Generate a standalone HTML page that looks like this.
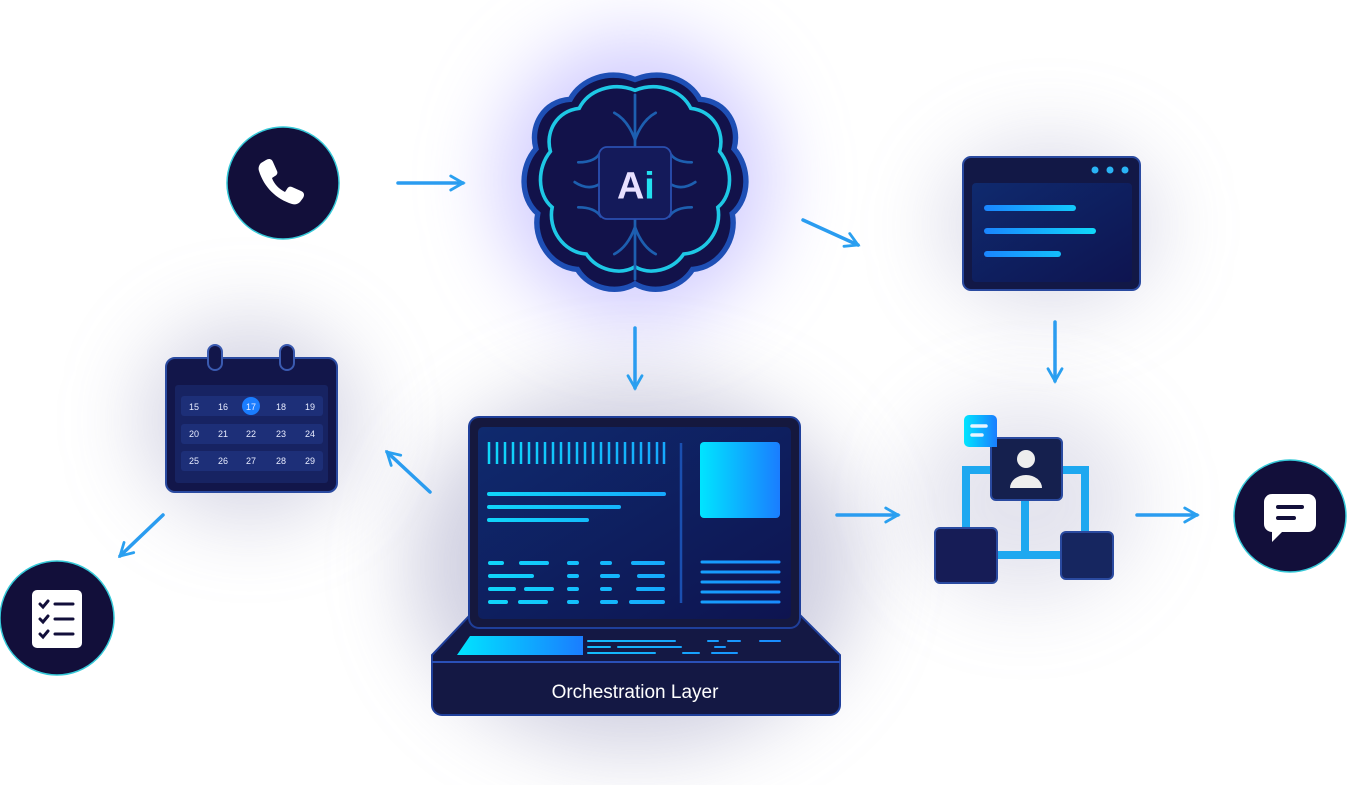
<!DOCTYPE html>
<html><head><meta charset="utf-8"><style>
body{margin:0;width:1347px;height:785px;background:#fff;overflow:hidden;position:relative;font-family:"Liberation Sans",sans-serif}
.glow{position:absolute;border-radius:50%;filter:blur(40px)}
svg{position:absolute;left:0;top:0}
</style></head><body>
<div class="glow" style="left:500px;top:40px;width:270px;height:280px;background:rgba(150,140,255,.45)"></div>
<div class="glow" style="left:410px;top:380px;width:450px;height:370px;background:rgba(120,120,170,.35)"></div>
<div class="glow" style="left:140px;top:320px;width:220px;height:200px;background:rgba(120,120,170,.3)"></div>
<div class="glow" style="left:940px;top:140px;width:220px;height:170px;background:rgba(120,120,170,.25)"></div>
<div class="glow" style="left:910px;top:400px;width:230px;height:200px;background:rgba(120,120,170,.2)"></div>
<svg width="1347" height="785" viewBox="0 0 1347 785">
<defs>
<linearGradient id="cy" x1="0" x2="1"><stop offset="0" stop-color="#00e5ff"/><stop offset="1" stop-color="#1a7dff"/></linearGradient>
<linearGradient id="cyu" gradientUnits="userSpaceOnUse" x1="480" x2="800" y1="0" y2="0"><stop offset="0" stop-color="#10d8fa"/><stop offset="1" stop-color="#1a86ff"/></linearGradient>
<linearGradient id="cyb" gradientUnits="userSpaceOnUse" x1="985" x2="1095" y1="0" y2="0"><stop offset="0" stop-color="#1a86ff"/><stop offset="1" stop-color="#10d8fa"/></linearGradient>
<linearGradient id="scr" x1="0" y1="0" x2="1" y2="1"><stop offset="0" stop-color="#0f2a6e"/><stop offset="1" stop-color="#0e1450"/></linearGradient>
<marker id="ah" viewBox="0 0 10 10" refX="8" refY="5" markerWidth="5" markerHeight="5" orient="auto"><path d="M1 1L8 5L1 9" fill="none" stroke="#2aa0f0" stroke-width="1.6" stroke-linecap="round"/></marker>
</defs>
<g stroke="#2a9cf0" stroke-width="3.5" stroke-linecap="round" fill="none" marker-end="url(#ah)">
<line x1="398" y1="183" x2="463" y2="183"/><line x1="803" y1="220" x2="858" y2="245"/>
<line x1="635" y1="328" x2="635" y2="388"/><line x1="1055" y1="322" x2="1055" y2="381"/>
<line x1="430" y1="492" x2="387" y2="452"/><line x1="163" y1="515" x2="120" y2="556"/>
<line x1="837" y1="515" x2="898" y2="515"/><line x1="1137" y1="515" x2="1197" y2="515"/>
</g>
<!-- circles -->
<circle cx="283" cy="183" r="56" fill="#120f3a" stroke="#36c9d8" stroke-width="1.5"/>
<path d="M266 160c3-2 6-1 7 2l4 9c1 2 0 4-2 5l-3 2c2 6 7 11 13 14l2-3c1-2 3-3 5-2l9 4c3 1 4 4 2 7l-3 4c-2 2-5 3-8 2-16-5-28-17-33-33-1-3 0-6 2-8z" fill="#fff"/>
<circle cx="57" cy="618" r="57" fill="#120f3a" stroke="#36c9d8" stroke-width="1.5"/>
<rect x="32" y="590" width="50" height="58" rx="5" fill="#fff"/>
<g stroke="#120f3a" stroke-width="3" stroke-linecap="round" fill="none"><path d="M40 604l3 3 5-6M40 619l3 3 5-6M40 634l3 3 5-6"/><path d="M55 604h18M55 619h18M55 634h18"/></g>
<circle cx="1290" cy="516" r="56" fill="#120f3a" stroke="#36c9d8" stroke-width="1.5"/>
<path d="M1272 494h36a8 8 0 0 1 8 8v22a8 8 0 0 1-8 8h-26l-10 10v-10a8 8 0 0 1-8-8v-22a8 8 0 0 1 8-8z" fill="#fff"/>
<path d="M1278 507h24M1278 518h16" stroke="#120f3a" stroke-width="4" stroke-linecap="round"/>
<!-- brain -->
<g transform="translate(635 183) scale(0.9) translate(-635 -183)">
<path d="M635 68c30-12 60 0 72 22 30 2 45 30 38 55 18 20 18 55-2 72 6 28-14 60-44 62-14 22-44 28-64 16-20 12-50 6-64-16-30-2-50-34-44-62-20-17-20-52-2-72-7-25 8-53 38-55 12-22 42-34 72-22z" fill="#12124a" stroke="#1e4fb5" stroke-width="6"/>
<path d="M635 80c25-10 52 0 62 20 25 3 38 26 32 48 15 18 15 48-2 62 5 24-12 50-38 52-12 18-38 24-54 14-16 10-42 4-54-14-26-2-43-28-38-52-17-14-17-44-2-62-6-22 7-45 32-48 10-20 37-30 62-20z" fill="none" stroke="#1ec8e6" stroke-width="4"/>
<g stroke="#1d5fb0" stroke-width="3" fill="none" stroke-linecap="round"><line x1="635" y1="85" x2="635" y2="290"/><path d="M612 105q15 8 23 30M658 105q-15 8-23 30M572 160q20 0 25-12M698 160q-20 0-25-12M568 182q15 10 28 2M702 182q-15 10-28 2M572 210q18 0 25 10M698 210q-18 0 -25 10M612 262q15-8 23-30M658 262q-15-8-23-30"/></g>
<rect x="595" y="143" width="80" height="80" rx="9" fill="#141a5a" stroke="#2a4fb0" stroke-width="2"/>
<text x="636" y="200" font-size="42" font-weight="bold" fill="#e8e0ff" text-anchor="middle">A<tspan fill="#22e0f0">i</tspan></text>
</g>
<!-- browser -->
<rect x="963" y="157" width="177" height="133" rx="8" fill="#121846" stroke="#2a4aa0" stroke-width="2"/>
<rect x="972" y="183" width="160" height="99" rx="4" fill="url(#scr)"/>
<circle cx="1095" cy="170" r="3.5" fill="#2ab4f5"/><circle cx="1110" cy="170" r="3.5" fill="#2ab4f5"/><circle cx="1125" cy="170" r="3.5" fill="#2ab4f5"/>
<g stroke="url(#cyb)" stroke-width="6" stroke-linecap="round"><line x1="987" y1="208" x2="1073" y2="208"/><line x1="987" y1="231" x2="1093" y2="231"/><line x1="987" y1="254" x2="1058" y2="254"/></g>
<!-- calendar -->
<rect x="166" y="358" width="171" height="134" rx="9" fill="#12164a" stroke="#2a4aa0" stroke-width="2"/>
<rect x="175" y="385" width="153" height="98" rx="3" fill="#172362"/>
<rect x="208" y="345" width="14" height="25" rx="7" fill="#12164a" stroke="#3a5ab0" stroke-width="2"/>
<rect x="280" y="345" width="14" height="25" rx="7" fill="#12164a" stroke="#3a5ab0" stroke-width="2"/>
<g fill="#1d2f78"><rect x="181" y="396" width="142" height="20" rx="3"/><rect x="181" y="424" width="142" height="20" rx="3"/><rect x="181" y="451" width="142" height="20" rx="3"/></g>
<circle cx="251" cy="406" r="9" fill="#1a7dff"/>
<g font-size="9" fill="#e8ecff" text-anchor="middle"><text x="194" y="410">15</text><text x="223" y="410">16</text><text x="251" y="410">17</text><text x="281" y="410">18</text><text x="310" y="410">19</text><text x="194" y="437">20</text><text x="223" y="437">21</text><text x="251" y="437">22</text><text x="281" y="437">23</text><text x="310" y="437">24</text><text x="194" y="464">25</text><text x="223" y="464">26</text><text x="251" y="464">27</text><text x="281" y="464">28</text><text x="310" y="464">29</text></g>
<!-- laptop -->
<path d="M470 615L432 655V705a10 10 0 0 0 10 10h388a10 10 0 0 0 10-10V655L800 615z" fill="#141844" stroke="#1f3f9a" stroke-width="2"/>
<path d="M432 662H840" stroke="#2a50b8" stroke-width="2"/>
<rect x="469" y="417" width="331" height="211" rx="10" fill="#15183e" stroke="#1f3f9a" stroke-width="2"/>
<rect x="478" y="427" width="313" height="192" rx="5" fill="url(#scr)"/>
<g stroke="url(#cyu)" stroke-width="2.5">
<path d="M489 442v22M497 442v22M505 442v22M513 442v22M521 442v22M529 442v22M537 442v22M545 442v22M553 442v22M561 442v22M569 442v22M577 442v22M585 442v22M593 442v22M601 442v22M609 442v22M617 442v22M625 442v22M633 442v22M641 442v22M649 442v22M657 442v22M664 442v22"/></g>
<line x1="681" y1="443" x2="681" y2="603" stroke="#1a4fb0" stroke-width="2.5"/>
<rect x="700" y="442" width="80" height="76" rx="4" fill="url(#cy)"/>
<g stroke="url(#cyu)" stroke-width="4" stroke-linecap="round">
<line x1="489" y1="494" x2="664" y2="494"/><line x1="489" y1="507" x2="619" y2="507"/><line x1="489" y1="520" x2="587" y2="520"/>
<path d="M490 563h12M521 563h26M569 563h8M602 563h8M633 563h30M490 576h42M569 576h8M602 576h16M639 576h24M490 589h24M526 589h26M569 589h8M602 589h8M638 589h25M490 602h16M520 602h26M569 602h8M602 602h14M631 602h32"/>
<path d="M702 562h77M702 572h77M702 582h77M702 592h77M702 602h77" stroke-width="3"/>
<path d="M588 641h87M588 647h22M618 647h63M588 653h67M708 641h10M728 641h12M760 641h20M715 647h10M712 653h25M683 653h16" stroke-width="2"/>
</g>
<path d="M470 636h113v19h-126z" fill="url(#cy)"/>
<text x="635" y="698" font-size="19" fill="#fff" text-anchor="middle">Orchestration Layer</text>
<!-- org chart -->
<g stroke="#1ea8f0" stroke-width="8" fill="none"><path d="M966 535V470h30M1055 470h30v70M1025 500v55M995 555h75"/></g>
<rect x="935" y="528" width="62" height="55" rx="5" fill="#161c56" stroke="#2a4aa0" stroke-width="2"/>
<rect x="1061" y="532" width="52" height="47" rx="5" fill="#162660" stroke="#2a4aa0" stroke-width="2"/>
<rect x="991" y="438" width="71" height="62" rx="5" fill="#15204e" stroke="#2a4aa0" stroke-width="2"/>
<circle cx="1026" cy="459" r="9" fill="#eee"/><path d="M1010 488a16 13 0 0 1 32 0z" fill="#eee"/>
<path d="M969 415h23a5 5 0 0 1 5 5v27h-28a5 5 0 0 1-5-5v-22a5 5 0 0 1 5-5z" fill="url(#cy)"/>
<path d="M972 426h14M972 435h10" stroke="#e8f4ff" stroke-width="3.5" stroke-linecap="round"/>
</svg>
</body></html>
